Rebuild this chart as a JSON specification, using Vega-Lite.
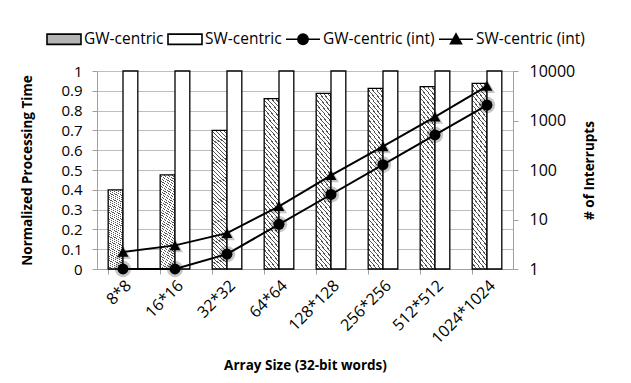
{
  "$schema": "https://vega.github.io/schema/vega-lite/v6.json",
  "width": 416,
  "height": 198,
  "autosize": "none",
  "padding": {"left": 97, "top": 71, "right": 118, "bottom": 114},
  "background": "white",
  "config": {
    "font": "Open Sans",
    "view": {"stroke": null},
    "axis": {
      "labelFont": "Open Sans",
      "labelFontSize": 16,
      "labelColor": "#000",
      "titleFont": "Open Sans",
      "titleFontSize": 13.5,
      "titleFontWeight": "bold",
      "titleColor": "#000",
      "domainColor": "#a0a0a0",
      "tickColor": "#a0a0a0",
      "gridColor": "#bdbdbd",
      "tickSize": 5
    },
    "legend": {
      "orient": "none",
      "legendX": -51,
      "legendY": -50,
      "direction": "horizontal",
      "labelFont": "Open Sans",
      "labelFontSize": 15.5,
      "labelColor": "#000",
      "labelOffset": 2,
      "columnPadding": 0,
      "symbolSize": 1156,
      "symbolOpacity": 1,
      "symbolStrokeWidth": 1.6,
      "symbolStrokeColor": "#000"
    }
  },
  "datasets": {
    "bars": [
      {"size": "8*8", "series": "GW-centric", "value": 0.4},
      {"size": "8*8", "series": "SW-centric", "value": 1},
      {"size": "16*16", "series": "GW-centric", "value": 0.475},
      {"size": "16*16", "series": "SW-centric", "value": 1},
      {"size": "32*32", "series": "GW-centric", "value": 0.7},
      {"size": "32*32", "series": "SW-centric", "value": 1},
      {"size": "64*64", "series": "GW-centric", "value": 0.86},
      {"size": "64*64", "series": "SW-centric", "value": 1},
      {"size": "128*128", "series": "GW-centric", "value": 0.887},
      {"size": "128*128", "series": "SW-centric", "value": 1},
      {"size": "256*256", "series": "GW-centric", "value": 0.912},
      {"size": "256*256", "series": "SW-centric", "value": 1},
      {"size": "512*512", "series": "GW-centric", "value": 0.921},
      {"size": "512*512", "series": "SW-centric", "value": 1},
      {"size": "1024*1024", "series": "GW-centric", "value": 0.938},
      {"size": "1024*1024", "series": "SW-centric", "value": 1}
    ],
    "ints": [
      {"size": "8*8", "series": "GW-centric (int)", "count": 1},
      {"size": "16*16", "series": "GW-centric (int)", "count": 1},
      {"size": "32*32", "series": "GW-centric (int)", "count": 2},
      {"size": "64*64", "series": "GW-centric (int)", "count": 8},
      {"size": "128*128", "series": "GW-centric (int)", "count": 32},
      {"size": "256*256", "series": "GW-centric (int)", "count": 128},
      {"size": "512*512", "series": "GW-centric (int)", "count": 512},
      {"size": "1024*1024", "series": "GW-centric (int)", "count": 2048},
      {"size": "8*8", "series": "SW-centric (int)", "count": 2.2},
      {"size": "16*16", "series": "SW-centric (int)", "count": 3},
      {"size": "32*32", "series": "SW-centric (int)", "count": 5.3},
      {"size": "64*64", "series": "SW-centric (int)", "count": 18.5},
      {"size": "128*128", "series": "SW-centric (int)", "count": 78},
      {"size": "256*256", "series": "SW-centric (int)", "count": 300},
      {"size": "512*512", "series": "SW-centric (int)", "count": 1190},
      {"size": "1024*1024", "series": "SW-centric (int)", "count": 4950}
    ]
  },
  "layer": [
    {
      "data": {"name": "bars"},
      "encoding": {
        "x": {
          "field": "size", "type": "nominal", "sort": null,
          "scale": {"paddingInner": 0.43, "paddingOuter": 0.215},
          "axis": {
            "orient": "bottom",
            "title": "Array Size (32-bit words)",
            "labelAngle": -45,
            "ticks": false,
            "labelPadding": 8,
            "titlePadding": 12
          }
        },
        "xOffset": {"field": "series", "type": "nominal", "scale": {"domain": ["GW-centric", "SW-centric"]}},
        "y": {
          "field": "value", "type": "quantitative",
          "scale": {"domain": [0, 1]},
          "axis": {
            "title": "Normalized Processing Time",
            "values": [0, 0.1, 0.2, 0.3, 0.4, 0.5, 0.6, 0.7, 0.8, 0.9, 1],
            "format": "~g",
            "labelFontSize": 15,
            "labelPadding": 10,
            "titlePadding": 26,
            "grid": true
          }
        }
      },
      "layer": [
        {
          "transform": [{"filter": "datum.series === 'GW-centric'"}],
          "mark": {
            "type": "bar",
            "stroke": "#000",
            "strokeWidth": 1.3,
            "fill": {
              "gradient": "linear", "x1": 0, "y1": 1, "x2": 0.109, "y2": -0.089,
              "stops": [
                {"offset": 0, "color": "#555"}, {"offset": 0.007, "color": "#555"}, {"offset": 0.007, "color": "#fff"}, {"offset": 0.025, "color": "#fff"},
                {"offset": 0.025, "color": "#555"}, {"offset": 0.032, "color": "#555"}, {"offset": 0.032, "color": "#fff"}, {"offset": 0.05, "color": "#fff"},
                {"offset": 0.05, "color": "#555"}, {"offset": 0.057, "color": "#555"}, {"offset": 0.057, "color": "#fff"}, {"offset": 0.075, "color": "#fff"},
                {"offset": 0.075, "color": "#555"}, {"offset": 0.082, "color": "#555"}, {"offset": 0.082, "color": "#fff"}, {"offset": 0.1, "color": "#fff"},
                {"offset": 0.1, "color": "#555"}, {"offset": 0.107, "color": "#555"}, {"offset": 0.107, "color": "#fff"}, {"offset": 0.125, "color": "#fff"},
                {"offset": 0.125, "color": "#555"}, {"offset": 0.132, "color": "#555"}, {"offset": 0.132, "color": "#fff"}, {"offset": 0.15, "color": "#fff"},
                {"offset": 0.15, "color": "#555"}, {"offset": 0.157, "color": "#555"}, {"offset": 0.157, "color": "#fff"}, {"offset": 0.175, "color": "#fff"},
                {"offset": 0.175, "color": "#555"}, {"offset": 0.182, "color": "#555"}, {"offset": 0.182, "color": "#fff"}, {"offset": 0.2, "color": "#fff"},
                {"offset": 0.2, "color": "#555"}, {"offset": 0.207, "color": "#555"}, {"offset": 0.207, "color": "#fff"}, {"offset": 0.225, "color": "#fff"},
                {"offset": 0.225, "color": "#555"}, {"offset": 0.232, "color": "#555"}, {"offset": 0.232, "color": "#fff"}, {"offset": 0.25, "color": "#fff"},
                {"offset": 0.25, "color": "#555"}, {"offset": 0.257, "color": "#555"}, {"offset": 0.257, "color": "#fff"}, {"offset": 0.275, "color": "#fff"},
                {"offset": 0.275, "color": "#555"}, {"offset": 0.282, "color": "#555"}, {"offset": 0.282, "color": "#fff"}, {"offset": 0.3, "color": "#fff"},
                {"offset": 0.3, "color": "#555"}, {"offset": 0.307, "color": "#555"}, {"offset": 0.307, "color": "#fff"}, {"offset": 0.325, "color": "#fff"},
                {"offset": 0.325, "color": "#555"}, {"offset": 0.332, "color": "#555"}, {"offset": 0.332, "color": "#fff"}, {"offset": 0.35, "color": "#fff"},
                {"offset": 0.35, "color": "#555"}, {"offset": 0.357, "color": "#555"}, {"offset": 0.357, "color": "#fff"}, {"offset": 0.375, "color": "#fff"},
                {"offset": 0.375, "color": "#555"}, {"offset": 0.382, "color": "#555"}, {"offset": 0.382, "color": "#fff"}, {"offset": 0.4, "color": "#fff"},
                {"offset": 0.4, "color": "#555"}, {"offset": 0.407, "color": "#555"}, {"offset": 0.407, "color": "#fff"}, {"offset": 0.425, "color": "#fff"},
                {"offset": 0.425, "color": "#555"}, {"offset": 0.432, "color": "#555"}, {"offset": 0.432, "color": "#fff"}, {"offset": 0.45, "color": "#fff"},
                {"offset": 0.45, "color": "#555"}, {"offset": 0.457, "color": "#555"}, {"offset": 0.457, "color": "#fff"}, {"offset": 0.475, "color": "#fff"},
                {"offset": 0.475, "color": "#555"}, {"offset": 0.482, "color": "#555"}, {"offset": 0.482, "color": "#fff"}, {"offset": 0.5, "color": "#fff"},
                {"offset": 0.5, "color": "#555"}, {"offset": 0.507, "color": "#555"}, {"offset": 0.507, "color": "#fff"}, {"offset": 0.525, "color": "#fff"},
                {"offset": 0.525, "color": "#555"}, {"offset": 0.532, "color": "#555"}, {"offset": 0.532, "color": "#fff"}, {"offset": 0.55, "color": "#fff"},
                {"offset": 0.55, "color": "#555"}, {"offset": 0.557, "color": "#555"}, {"offset": 0.557, "color": "#fff"}, {"offset": 0.575, "color": "#fff"},
                {"offset": 0.575, "color": "#555"}, {"offset": 0.582, "color": "#555"}, {"offset": 0.582, "color": "#fff"}, {"offset": 0.6, "color": "#fff"},
                {"offset": 0.6, "color": "#555"}, {"offset": 0.607, "color": "#555"}, {"offset": 0.607, "color": "#fff"}, {"offset": 0.625, "color": "#fff"},
                {"offset": 0.625, "color": "#555"}, {"offset": 0.632, "color": "#555"}, {"offset": 0.632, "color": "#fff"}, {"offset": 0.65, "color": "#fff"},
                {"offset": 0.65, "color": "#555"}, {"offset": 0.657, "color": "#555"}, {"offset": 0.657, "color": "#fff"}, {"offset": 0.675, "color": "#fff"},
                {"offset": 0.675, "color": "#555"}, {"offset": 0.682, "color": "#555"}, {"offset": 0.682, "color": "#fff"}, {"offset": 0.7, "color": "#fff"},
                {"offset": 0.7, "color": "#555"}, {"offset": 0.707, "color": "#555"}, {"offset": 0.707, "color": "#fff"}, {"offset": 0.725, "color": "#fff"},
                {"offset": 0.725, "color": "#555"}, {"offset": 0.732, "color": "#555"}, {"offset": 0.732, "color": "#fff"}, {"offset": 0.75, "color": "#fff"},
                {"offset": 0.75, "color": "#555"}, {"offset": 0.757, "color": "#555"}, {"offset": 0.757, "color": "#fff"}, {"offset": 0.775, "color": "#fff"},
                {"offset": 0.775, "color": "#555"}, {"offset": 0.782, "color": "#555"}, {"offset": 0.782, "color": "#fff"}, {"offset": 0.8, "color": "#fff"},
                {"offset": 0.8, "color": "#555"}, {"offset": 0.807, "color": "#555"}, {"offset": 0.807, "color": "#fff"}, {"offset": 0.825, "color": "#fff"},
                {"offset": 0.825, "color": "#555"}, {"offset": 0.832, "color": "#555"}, {"offset": 0.832, "color": "#fff"}, {"offset": 0.85, "color": "#fff"},
                {"offset": 0.85, "color": "#555"}, {"offset": 0.857, "color": "#555"}, {"offset": 0.857, "color": "#fff"}, {"offset": 0.875, "color": "#fff"},
                {"offset": 0.875, "color": "#555"}, {"offset": 0.882, "color": "#555"}, {"offset": 0.882, "color": "#fff"}, {"offset": 0.9, "color": "#fff"},
                {"offset": 0.9, "color": "#555"}, {"offset": 0.907, "color": "#555"}, {"offset": 0.907, "color": "#fff"}, {"offset": 0.925, "color": "#fff"},
                {"offset": 0.925, "color": "#555"}, {"offset": 0.932, "color": "#555"}, {"offset": 0.932, "color": "#fff"}, {"offset": 0.95, "color": "#fff"},
                {"offset": 0.95, "color": "#555"}, {"offset": 0.957, "color": "#555"}, {"offset": 0.957, "color": "#fff"}, {"offset": 0.975, "color": "#fff"},
                {"offset": 0.975, "color": "#555"}, {"offset": 0.982, "color": "#555"}, {"offset": 0.982, "color": "#fff"}, {"offset": 1, "color": "#fff"}
              ]
            }
          }
        },
        {
          "transform": [{"filter": "datum.series === 'SW-centric'"}],
          "mark": {"type": "bar", "fill": "#fff", "stroke": "#000", "strokeWidth": 1.3}
        }
      ]
    },
    {
      "data": {"name": "ints"},
      "encoding": {
        "x": {
          "field": "size", "type": "nominal", "sort": null,
          "axis": {
            "orient": "bottom",
            "title": null,
            "labels": false,
            "domain": false,
            "ticks": true,
            "bandPosition": 0,
            "grid": false
          }
        },
        "y": {
          "field": "count", "type": "quantitative",
          "scale": {"type": "log", "domain": [1, 10000]},
          "axis": {
            "orient": "right",
            "title": "# of Interrupts",
            "titleAngle": 270,
            "values": [1, 10, 100, 1000, 10000],
            "format": "d",
            "grid": false,
            "labelPadding": 11,
            "titlePadding": 22
          }
        }
      },
      "layer": [
        {
          "mark": {"type": "line", "color": "#000", "strokeWidth": 2},
          "encoding": {"detail": {"field": "series"}, "order": {"value": null}}
        },
        {
          "transform": [{"filter": "datum.series === 'GW-centric (int)'"}],
          "mark": {"type": "point", "filled": true, "shape": "circle", "color": "#000", "opacity": 0.22, "size": 270}
        },
        {
          "transform": [{"filter": "datum.series === 'SW-centric (int)'"}],
          "mark": {"type": "point", "filled": true, "shape": "triangle-up", "color": "#000", "opacity": 0.22, "size": 260}
        },
        {
          "transform": [{"filter": "datum.series === 'GW-centric (int)'"}],
          "mark": {"type": "point", "filled": true, "shape": "circle", "color": "#000", "opacity": 1, "size": 120}
        },
        {
          "transform": [{"filter": "datum.series === 'SW-centric (int)'"}],
          "mark": {"type": "point", "filled": true, "shape": "triangle-up", "color": "#000", "opacity": 1, "size": 120}
        },
        {
          "mark": {"type": "point", "filled": true, "opacity": 0, "size": 1},
          "encoding": {
            "shape": {
              "field": "series", "type": "nominal", "title": null,
              "scale": {
                "domain": ["GW-centric", "SW-centric", "GW-centric (int)", "SW-centric (int)"],
                "range": [
                  "M-1,-0.3H1V0.3H-1Z",
                  "M-1,-0.3H1V0.3H-1Z",
                  "M-1,0H1M-0.3,0A0.3,0.3,0,1,0,0.3,0A0.3,0.3,0,1,0,-0.3,0Z",
                  "M-1,0H1M-0.32,0.26L0,-0.32L0.32,0.26Z"
                ]
              }
            },
            "fill": {
              "field": "series", "type": "nominal", "title": null,
              "scale": {
                "domain": ["GW-centric", "SW-centric", "GW-centric (int)", "SW-centric (int)"],
                "range": ["#b4b4b4", "#fff", "#000", "#000"]
              }
            },
            "stroke": {
              "field": "series", "type": "nominal", "title": null,
              "scale": {
                "domain": ["GW-centric", "SW-centric", "GW-centric (int)", "SW-centric (int)"],
                "range": ["#000", "#000", "#000", "#000"]
              }
            }
          }
        }
      ]
    }
  ],
  "resolve": {"scale": {"y": "independent"}, "axis": {"x": "independent"}}
}
